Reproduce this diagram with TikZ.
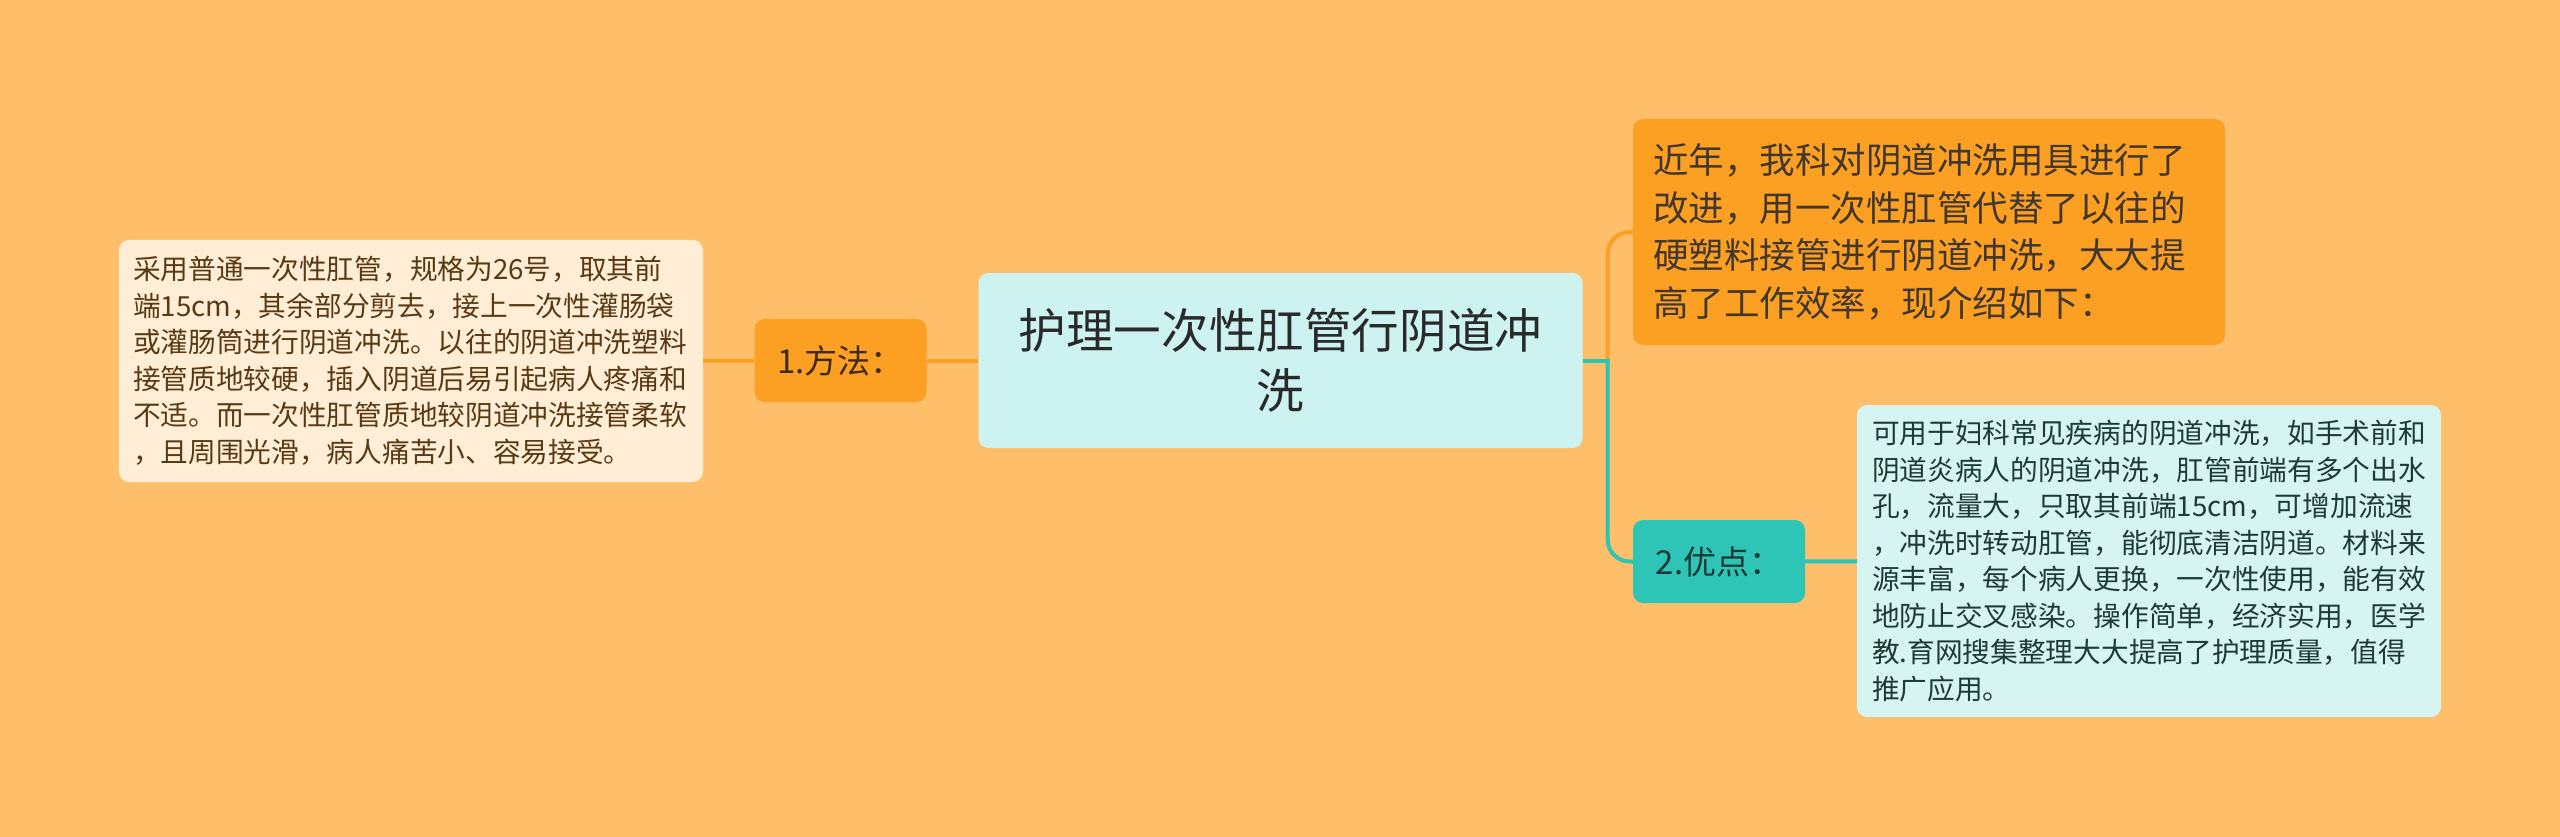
\documentclass[tikz,border=0pt]{standalone}
\usepackage{fontspec}
\setmainfont{Noto Sans CJK SC}
\usetikzlibrary{positioning}
\definecolor{bgorange}{HTML}{FEBE6A}
\definecolor{mmorange}{HTML}{FCA023}
\definecolor{mmteal}{HTML}{2EC4B6}
\definecolor{rootfill}{HTML}{CCF3F0}
\definecolor{creamfill}{HTML}{FFEDD5}
\definecolor{mintfill}{HTML}{D6F4F1}
\definecolor{browntext}{HTML}{5A3A14}
\definecolor{darktext}{HTML}{2A2A2A}
\definecolor{tealtext}{HTML}{1E3A36}

\begin{document}
\begin{tikzpicture}[
  x=1pt, y=-1pt,
  box/.style={rounded corners=10pt, inner sep=0pt, align=center},
  topic/.style={box, fill=rootfill, text=darktext, minimum width=604pt,
                minimum height=175pt, font=\fontsize{47.6}{60}\selectfont},
  branch/.style={box, minimum width=172pt, minimum height=83pt,
                 font=\fontsize{33}{40}\selectfont},
  leaf/.style={rounded corners=10pt, inner xsep=14pt, inner ysep=0pt,
               align=left, font=\fontsize{27.7}{36.5}\selectfont},
  conn/.style={line width=4pt},
]

\fill[bgorange] (0,0) rectangle (2560,837);
\useasboundingbox (0,0) rectangle (2560,837);

% ---- Centre ----
\node[topic] (root) at (1280.5,360.5) {护理一次性肛管行阴道冲\\洗};

% ---- Left: method ----
\node[branch, fill=mmorange, text=browntext!70!black] (method) at (840.5,360.5)
  {1.方法：};

\node[leaf, fill=creamfill, text=browntext, text width=556pt,
      minimum height=242pt] (methodnote) at (411,361)
  {采用普通一次性肛管，规格为26号，取其前\\
   端15cm，其余部分剪去，接上一次性灌肠袋\\
   或灌肠筒进行阴道冲洗。以往的阴道冲洗塑料\\
   接管质地较硬，插入阴道后易引起病人疼痛和\\
   不适。而一次性肛管质地较阴道冲洗接管柔软\\
   ，且周围光滑，病人痛苦小、容易接受。};

\draw[conn, mmorange] (methodnote) -- (method);
\draw[conn, mmorange] (method) -- (root);

% ---- Right: intro and merits ----
\node[leaf, fill=mmorange, text=darktext!85!brown, text width=552pt,
      inner xsep=20pt, minimum height=226pt,
      font=\fontsize{35.5}{47.7}\selectfont] (intro) at (1929,232)
  {近年，我科对阴道冲洗用具进行了\\
   改进，用一次性肛管代替了以往的\\
   硬塑料接管进行阴道冲洗，大大提\\
   高了工作效率，现介绍如下：};

\node[branch, fill=mmteal, text=tealtext] (merit) at (1719,561.5) {2.优点：};

\node[leaf, fill=mintfill, text=tealtext, text width=554pt,
      inner xsep=15pt, minimum height=312pt] (meritnote) at (2149,561)
  {可用于妇科常见疾病的阴道冲洗，如手术前和\\
   阴道炎病人的阴道冲洗，肛管前端有多个出水\\
   孔，流量大，只取其前端15cm，可增加流速\\
   ，冲洗时转动肛管，能彻底清洁阴道。材料来\\
   源丰富，每个病人更换，一次性使用，能有效\\
   地防止交叉感染。操作简单，经济实用，医学\\
   教.育网搜集整理大大提高了护理质量，值得\\
   推广应用。};

\coordinate[right=25pt of root.east] (fork);
\draw[conn, mmorange, rounded corners=22pt] (fork) |- (intro.west);
\draw[conn, mmteal] (root.east) -- ([xshift=2pt]fork);
\draw[conn, mmteal, rounded corners=22pt] (fork) |- (merit.west);
\draw[conn, mmteal] (merit) -- (meritnote);

\end{tikzpicture}
\end{document}
